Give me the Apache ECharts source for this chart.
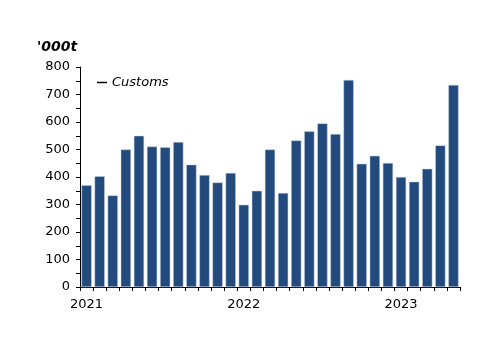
<!DOCTYPE html>
<html><head><meta charset="utf-8">
<script src="https://cdn.jsdelivr.net/npm/echarts@6/dist/echarts.min.js"></script>
<style>html,body{margin:0;padding:0;background:#fff}#c{width:500px;height:353px}</style>
</head><body><div id="c"></div>
<script>
const categories = [
  '2021-01','2021-02','2021-03','2021-04','2021-05','2021-06','2021-07','2021-08','2021-09','2021-10','2021-11','2021-12',
  '2022-01','2022-02','2022-03','2022-04','2022-05','2022-06','2022-07','2022-08','2022-09','2022-10','2022-11','2022-12',
  '2023-01','2023-02','2023-03','2023-04','2023-05'
];
const customs = [
  370, 403, 333, 500, 550, 511, 508, 527, 445, 407, 380, 415,
  299, 350, 500, 342, 533, 566, 595, 556, 753, 448, 477, 451,
  400, 383, 430, 515, 735
];
const yTicks = [0, 100, 200, 300, 400, 500, 600, 700, 800];
const font = 'DejaVu Sans';

const chart = echarts.init(document.getElementById('c'));
chart.setOption({
  animation: false,
  textStyle: { fontFamily: font },
  grid: { left: 80, right: 40, top: 67, bottom: 66 },
  graphic: [{
    type: 'text', left: 37, top: 40,
    style: { text: "'000t", font: 'italic bold 14px "DejaVu Sans"', fill: '#000' }
  }],
  legend: {
    left: 92, top: 71,
    itemWidth: 10, itemHeight: 1.5, itemGap: 4,
    textStyle: { fontFamily: font, fontStyle: 'italic', fontSize: 13, color: '#000' },
    data: [{ name: 'Customs', icon: 'rect', itemStyle: { color: '#000', borderWidth: 0, borderColor: '#000' } }]
  },
  xAxis: {
    type: 'category',
    data: categories,
    axisLine: { lineStyle: { color: '#000', width: 1 } },
    axisTick: { show: true, length: 4, lineStyle: { color: '#000' } },
    axisLabel: {
      interval: 0,
      fontSize: 13, color: '#000', margin: 11,
      formatter: (v, i) => (v.endsWith('-01') ? v.slice(0, 4) : '')
    }
  },
  yAxis: {
    type: 'value', min: 0, max: 800, interval: 100,
    axisLine: { show: true, lineStyle: { color: '#000', width: 1 } },
    axisTick: { show: true, length: 4, lineStyle: { color: '#000' } },
    minorTick: { show: true, splitNumber: 2, length: 4, lineStyle: { color: '#000' } },
    splitLine: { show: false },
    axisLabel: { fontSize: 13, color: '#000', margin: 10,
      formatter: v => (yTicks.includes(v) ? String(v) : '') }
  },
  series: [{
    name: 'Customs',
    type: 'bar',
    data: customs,
    barCategoryGap: '22%',
    itemStyle: { color: '#224a7c', borderColor: '#c9d3e0', borderWidth: 0.5 }
  }]
});
</script></body></html>
